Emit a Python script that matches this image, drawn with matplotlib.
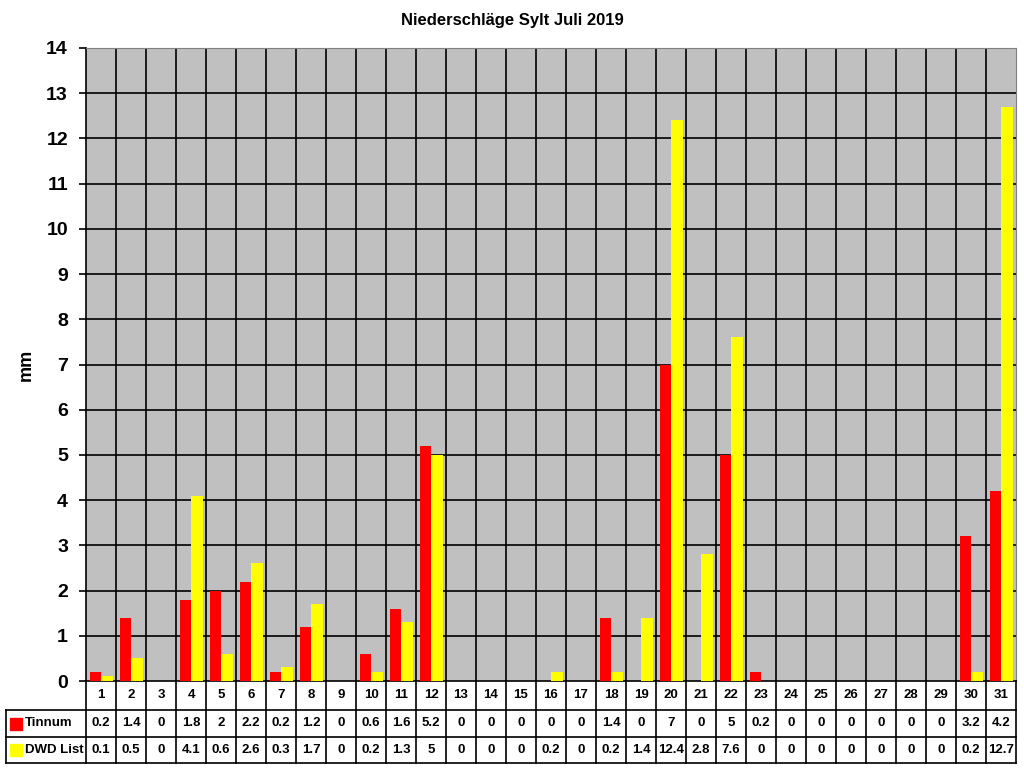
import numpy as np
import matplotlib.pyplot as plt

plt.rcParams['font.family'] = ['Liberation Sans', 'DejaVu Sans']

# Daten
tage = list(range(1, 32))
tinnum = [0.2, 1.4, 0, 1.8, 2, 2.2, 0.2, 1.2, 0, 0.6, 1.6, 5.2, 0, 0, 0, 0,
          0, 1.4, 0, 7, 0, 5, 0.2, 0, 0, 0, 0, 0, 0, 3.2, 4.2]
dwd_list = [0.1, 0.5, 0, 4.1, 0.6, 2.6, 0.3, 1.7, 0, 0.2, 1.3, 5, 0, 0, 0, 0.2,
            0, 0.2, 1.4, 12.4, 2.8, 7.6, 0, 0, 0, 0, 0, 0, 0, 0.2, 12.7]
reihen = ["Tinnum", "DWD List"]
farben = ["#FF0000", "#FFFF00"]

W, H = 1024, 768
fig = plt.figure(figsize=(W / 100, H / 100), dpi=100)

# Diagrammfläche (Pixel)
x0, x1, y_top, y_bot = 86, 1016, 48, 681
ax = fig.add_axes([x0 / W, 1 - y_bot / H, (x1 - x0) / W, (y_bot - y_top) / H])
ax.set_facecolor("#C0C0C0")
n = len(tage)
pos = np.arange(n)
bw = 0.38
ax.bar(pos + 0.13 + bw / 2, tinnum, width=bw, color=farben[0], zorder=3)
ax.bar(pos + 0.13 + bw * 1.5, dwd_list, width=bw, color=farben[1], zorder=3)
ax.set_xlim(0, n)
ax.set_ylim(0, 14)
ax.set_yticks(range(0, 15))
ax.set_yticklabels([str(v) for v in range(0, 15)], fontsize=14, fontweight="bold")
ax.set_xticks([])
for v in range(1, 15):
    ax.axhline(v, color="black", lw=1.2, zorder=1)
for i in range(1, n):
    ax.axvline(i, color="black", lw=1.2, zorder=1)
ax.tick_params(axis="y", length=5, width=1.2, pad=8)
for s in ["left", "bottom"]:
    ax.spines[s].set_color("black")
    ax.spines[s].set_linewidth(1.2)
ax.spines["top"].set_color("#808080")
ax.spines["right"].set_color("#808080")
ax.set_ylabel("mm", fontsize=13, fontweight="bold", labelpad=8)
fig.text(0.5, 1 - 20 / H, "Niederschläge Sylt Juli 2019", ha="center", va="center",
         fontsize=12, fontweight="bold")

# Datentabelle
tx0 = 6
t_bot = 763
ta = fig.add_axes([tx0 / W, 1 - t_bot / H, (x1 - tx0) / W, (t_bot - y_bot) / H])
ta.set_xlim(-(x0 - tx0) / 30, n)
ta.set_ylim(0, t_bot - y_bot)
ta.axis("off")
links = -(x0 - tx0) / 30
r1, r2 = t_bot - 710, t_bot - 737
lw = 1.2
for i in range(0, n + 1):
    ta.plot([i, i], [0, t_bot - y_bot], color="black", lw=lw, clip_on=False)
for yy in [r1, r2, 0]:
    ta.plot([links, n], [yy, yy], color="black", lw=lw, clip_on=False)
ta.plot([links, links], [0, r1], color="black", lw=lw, clip_on=False)

mitte_kopf = (r1 + (t_bot - y_bot)) / 2
zeilen = [(r1 + r2) / 2, r2 / 2]
for i, t in enumerate(tage):
    ta.text(i + 0.5, mitte_kopf, str(t), ha="center", va="center", fontsize=9.5, fontweight="bold")
for werte, yy in zip([tinnum, dwd_list], zeilen):
    for i, v in enumerate(werte):
        s = f"{v:g}"
        ta.text(i + 0.5, yy, s, ha="center", va="center", fontsize=9.5, fontweight="bold")
for name, farbe, yy in zip(reihen, farben, zeilen):
    ta.add_patch(plt.Rectangle((links + 4 / 30, yy - 6), 12 / 30, 12, color=farbe, clip_on=False))
    ta.text(links + 19 / 30, yy, name, ha="left", va="center", fontsize=9.5, fontweight="bold")

fig.savefig("out.png", dpi=100)
